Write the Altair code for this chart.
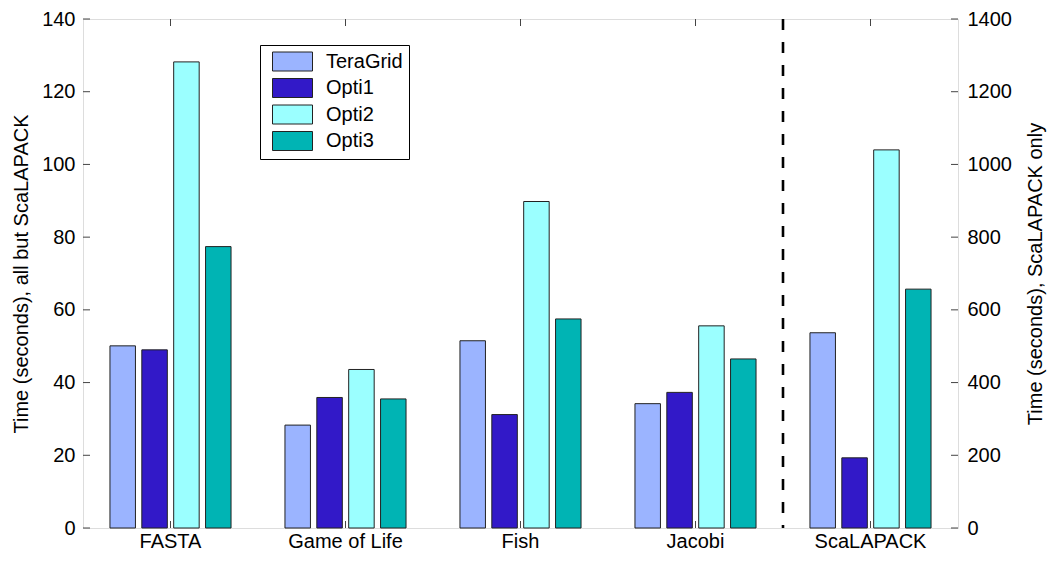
import altair as alt
import pandas as pd

categories = ["FASTA", "Game of Life", "Fish", "Jacobi", "ScaLAPACK"]
series = ["TeraGrid", "Opti1", "Opti2", "Opti3"]
colors = ["#9bb4ff", "#3219c8", "#9bffff", "#00b4b4"]

# left axis (seconds), all but ScaLAPACK
teragrid = [50.1, 28.3, 51.5, 34.2]
opti1 = [49.0, 35.9, 31.2, 37.3]
opti2 = [128.2, 43.6, 89.8, 55.6]
opti3 = [77.4, 35.5, 57.5, 46.5]

# right axis (seconds), ScaLAPACK only
scalapack = [537, 193, 1040, 657]

left_ticks = [0, 20, 40, 60, 80, 100, 120, 140]
right_ticks = [0, 200, 400, 600, 800, 1000, 1200, 1400]

W, H = 875, 509
FONT = "Liberation Sans"
FS = 20

rows = []
for i, cat in enumerate(categories[:4]):
    for s, vals in zip(series, [teragrid, opti1, opti2, opti3]):
        rows.append({"category": cat, "series": s, "value": vals[i]})
df_left = pd.DataFrame(rows)
df_right = pd.DataFrame({"category": ["ScaLAPACK"] * 4, "series": series, "value": scalapack})

x_enc = alt.X(
    "category:N",
    scale=alt.Scale(domain=categories, paddingInner=0, paddingOuter=0),
    sort=categories,
    axis=alt.Axis(title=None, labelAngle=0, labelAlign="center", labelBaseline="alphabetic",
                  tickSize=0, domain=False, labelPadding=19,
                  labelFontSize=FS, labelFont=FONT, labelColor="black"),
)
xo_enc = alt.XOffset("series:N", sort=series,
                     scale=alt.Scale(domain=series, paddingInner=0.2, paddingOuter=0.846))
color_enc = alt.Color(
    "series:N",
    sort=series,
    scale=alt.Scale(domain=series, range=colors),
    legend=alt.Legend(
        title=None, orient="none", legendX=177, legendY=26,
        symbolType="M-2,-0.95H2V0.95H-2Z", symbolSize=400,
        symbolOffset=16,
        symbolStrokeColor="#222", symbolStrokeWidth=1, symbolOpacity=1,
        labelFontSize=FS, labelFont=FONT, labelColor="black", labelOffset=23,
        strokeColor="black", fillColor="white", padding=6, rowPadding=3.5,
    ),
)

bars_left = alt.Chart(df_left).mark_bar(stroke="#222", strokeWidth=1, opacity=1).encode(
    x=x_enc,
    xOffset=xo_enc,
    color=color_enc,
    y=alt.Y("value:Q", scale=alt.Scale(domain=[0, 140], nice=False, zero=True),
            axis=alt.Axis(values=left_ticks, title="Time (seconds), all but ScaLAPACK",
                          titleFontSize=FS, titleFont=FONT, titleFontWeight="normal",
                          titleColor="black", titlePadding=10,
                          labelFontSize=FS, labelFont=FONT, labelColor="black",
                          tickSize=0, labelPadding=8, domain=False, grid=False)),
)

bars_right = alt.Chart(df_right).mark_bar(stroke="#222", strokeWidth=1, opacity=1).encode(
    x=x_enc,
    xOffset=xo_enc,
    color=color_enc,
    y=alt.Y("value:Q", scale=alt.Scale(domain=[0, 1400], nice=False, zero=True),
            axis=alt.Axis(orient="right", values=right_ticks, format="d",
                          title="Time (seconds), ScaLAPACK only", titleAngle=270,
                          titleFontSize=FS, titleFont=FONT, titleFontWeight="normal",
                          titleColor="black", titlePadding=14, titleBaseline="top",
                          labelFontSize=FS, labelFont=FONT, labelColor="black",
                          tickSize=0, labelPadding=9, domain=False, grid=False)),
)

tick_df = pd.DataFrame({"t": left_ticks})
ytick_scale = alt.Scale(domain=[0, 140], nice=False)
lticks = alt.Chart(tick_df).mark_rule(color="#444", strokeWidth=1).encode(
    y=alt.Y("t:Q", scale=ytick_scale, axis=None),
    x=alt.value(0), x2=alt.value(7),
)
rticks = alt.Chart(tick_df).mark_rule(color="#444", strokeWidth=1).encode(
    y=alt.Y("t:Q", scale=ytick_scale, axis=None),
    x=alt.value(W - 7), x2=alt.value(W),
)
cat_df = pd.DataFrame({"category": categories})
tticks = alt.Chart(cat_df).mark_rule(color="#444", strokeWidth=1).encode(
    x=alt.X("category:N", bandPosition=0.5),
    y=alt.value(0), y2=alt.value(7),
)
bticks = alt.Chart(cat_df).mark_rule(color="#444", strokeWidth=1).encode(
    x=alt.X("category:N", bandPosition=0.5),
    y=alt.value(H - 7), y2=alt.value(H),
)
sep = alt.Chart(pd.DataFrame({"category": ["ScaLAPACK"]})).mark_rule(
    color="black", strokeWidth=2.6, strokeDash=[11, 12]
).encode(
    x=alt.X("category:N", bandPosition=0),
    y=alt.value(0), y2=alt.value(H),
)

chart = alt.layer(
    bticks, tticks, bars_left, bars_right, lticks, rticks, sep
).resolve_scale(y="independent").properties(
    width=W, height=H,
    autosize=alt.AutoSizeParams(type="none"),
    padding={"left": 75, "top": 11, "right": 94, "bottom": 25},
).configure_view(stroke="black", strokeWidth=1.2).configure(background="white")

chart.save("out.html", embed_options={"renderer": "svg", "actions": False})
